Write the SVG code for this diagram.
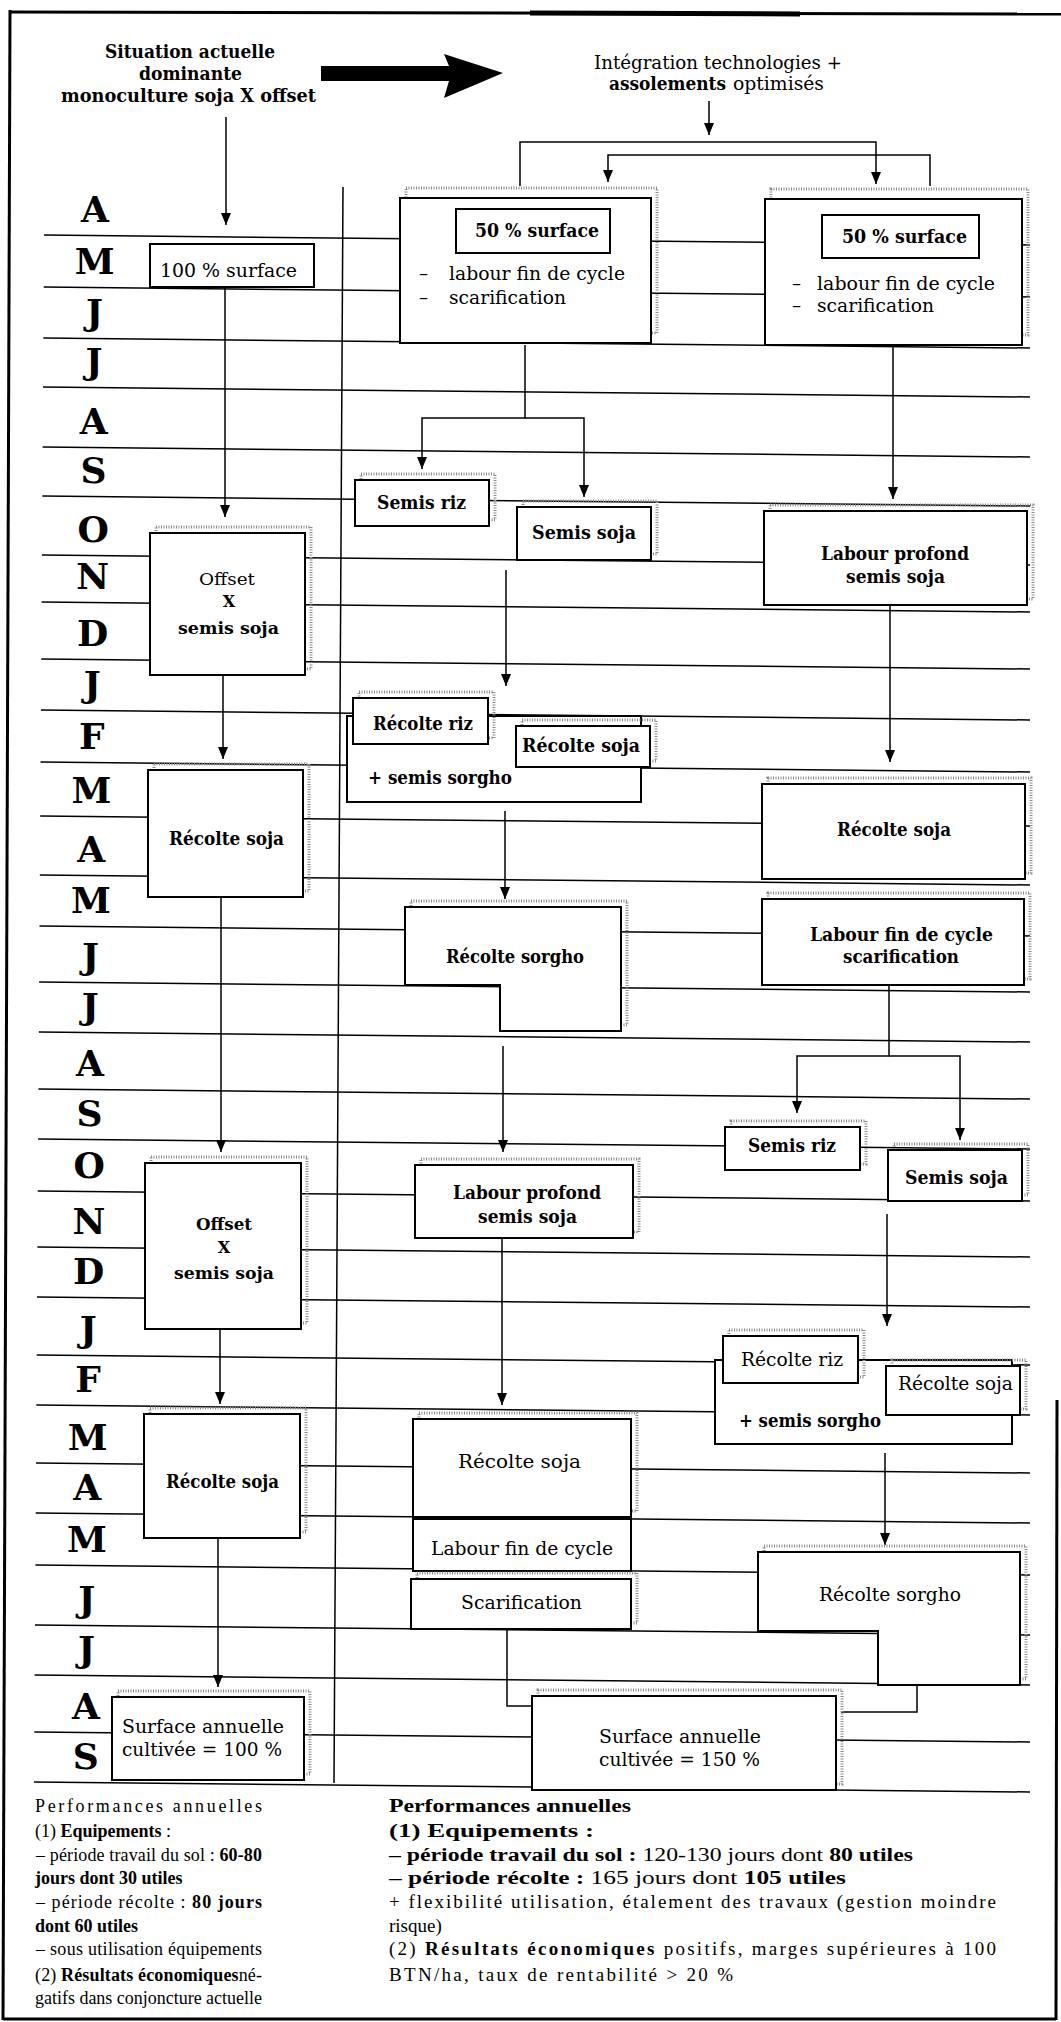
<svg xmlns="http://www.w3.org/2000/svg" width="1061" height="2022" viewBox="0 0 1061 2022">
<defs>
<marker id="ah" viewBox="0 0 12 10" refX="12" refY="5" markerWidth="12" markerHeight="10" markerUnits="userSpaceOnUse" orient="auto"><path d="M0,0 L12,5 L0,10 z" fill="#000"/></marker>
<style>
.b{font-family:"DejaVu Serif",serif;font-weight:bold;fill:#000}
.r{font-family:"DejaVu Serif",serif;fill:#000}
.p{font-family:"Liberation Serif",serif;font-size:18px;fill:#000}
.pb{font-family:"Liberation Serif",serif;font-size:18px;font-weight:bold;fill:#000}
.p19{font-size:19px}
.bw{font-weight:bold}
.nw{font-weight:normal}
.m{font-family:"DejaVu Serif",serif;font-weight:bold;font-size:36px;text-anchor:middle;fill:#000}
.f17{font-size:17px}.f16{font-size:16px}.f18{font-size:18px}.f19{font-size:19px}
.box{fill:#fff;stroke:#000;stroke-width:2}
.sh{fill:none;stroke:#888;stroke-width:3;stroke-dasharray:1 1.5}
.gl{stroke:#000;stroke-width:1.5}
.cn{stroke:#000;stroke-width:1.5;fill:none}
.fr{stroke:#000;stroke-width:3;fill:none}
</style>
</defs>
<rect width="1061" height="2022" fill="#fff"/>
<g id="frame">
<line class="fr" x1="10" y1="10" x2="3" y2="2020"/>
<line class="fr" x1="10" y1="12" x2="1061" y2="14"/>
<line x1="530" y1="13" x2="800" y2="14" stroke="#000" stroke-width="5"/>
<line class="fr" x1="1057" y1="1400" x2="1056" y2="2020"/>
<line class="fr" x1="3" y1="2019" x2="1056" y2="2019"/>
</g>
<g id="grid">
<line class="gl" x1="44" y1="235" x2="1030" y2="245"/>
<line class="gl" x1="43.7" y1="287" x2="1030" y2="297"/>
<line class="gl" x1="43.3" y1="338" x2="1030" y2="348"/>
<line class="gl" x1="43" y1="387" x2="1030" y2="397"/>
<line class="gl" x1="42.6" y1="447" x2="1030" y2="457"/>
<line class="gl" x1="42.3" y1="496" x2="1030" y2="506"/>
<line class="gl" x1="41.9" y1="555" x2="1030" y2="565"/>
<line class="gl" x1="41.6" y1="602" x2="1030" y2="612"/>
<line class="gl" x1="41.2" y1="659" x2="1030" y2="669"/>
<line class="gl" x1="40.9" y1="710" x2="1030" y2="720"/>
<line class="gl" x1="40.5" y1="762" x2="1030" y2="772"/>
<line class="gl" x1="40.2" y1="816" x2="1030" y2="826"/>
<line class="gl" x1="39.8" y1="875" x2="1030" y2="885"/>
<line class="gl" x1="39.5" y1="926" x2="1030" y2="936"/>
<line class="gl" x1="39.1" y1="982" x2="1030" y2="992"/>
<line class="gl" x1="38.8" y1="1032" x2="1030" y2="1042"/>
<line class="gl" x1="38.4" y1="1089" x2="1030" y2="1099"/>
<line class="gl" x1="38.1" y1="1139" x2="1030" y2="1149"/>
<line class="gl" x1="37.7" y1="1191" x2="1030" y2="1201"/>
<line class="gl" x1="37.4" y1="1247" x2="1030" y2="1257"/>
<line class="gl" x1="37" y1="1297" x2="1030" y2="1307"/>
<line class="gl" x1="36.7" y1="1355" x2="1030" y2="1365"/>
<line class="gl" x1="36.3" y1="1405" x2="1030" y2="1415"/>
<line class="gl" x1="36" y1="1463" x2="1030" y2="1473"/>
<line class="gl" x1="35.7" y1="1513" x2="1030" y2="1523"/>
<line class="gl" x1="35.4" y1="1565" x2="1030" y2="1575"/>
<line class="gl" x1="35" y1="1625" x2="1030" y2="1635"/>
<line class="gl" x1="34.6" y1="1675" x2="1030" y2="1685"/>
<line class="gl" x1="34.3" y1="1732" x2="1030" y2="1742"/>
<line class="gl" x1="33.9" y1="1782" x2="1030" y2="1792"/>
<line class="gl" x1="343" y1="187" x2="334" y2="1783"/>
<text class="m" x="95" y="222">A</text>
<text class="m" x="94.7" y="274">M</text>
<text class="m" x="94.4" y="325">J</text>
<text class="m" x="94.1" y="374">J</text>
<text class="m" x="93.7" y="434">A</text>
<text class="m" x="93.4" y="483">S</text>
<text class="m" x="93.1" y="542">O</text>
<text class="m" x="92.8" y="589">N</text>
<text class="m" x="92.5" y="646">D</text>
<text class="m" x="92.2" y="697">J</text>
<text class="m" x="91.8" y="749">F</text>
<text class="m" x="91.5" y="803">M</text>
<text class="m" x="91.2" y="862">A</text>
<text class="m" x="90.9" y="913">M</text>
<text class="m" x="90.5" y="969">J</text>
<text class="m" x="90.2" y="1019">J</text>
<text class="m" x="89.9" y="1076">A</text>
<text class="m" x="89.6" y="1126">S</text>
<text class="m" x="89.3" y="1178">O</text>
<text class="m" x="88.9" y="1234">N</text>
<text class="m" x="88.6" y="1284">D</text>
<text class="m" x="88.3" y="1342">J</text>
<text class="m" x="88" y="1392">F</text>
<text class="m" x="87.6" y="1450">M</text>
<text class="m" x="87.3" y="1500">A</text>
<text class="m" x="87" y="1552">M</text>
<text class="m" x="86.7" y="1612">J</text>
<text class="m" x="86.4" y="1662">J</text>
<text class="m" x="86" y="1719">A</text>
<text class="m" x="85.7" y="1769">S</text>
</g>
<g id="titles">
<text class="b f18" x="105" y="58" textLength="170" lengthAdjust="spacingAndGlyphs">Situation actuelle</text>
<text class="b f18" x="139" y="80" textLength="103" lengthAdjust="spacingAndGlyphs">dominante</text>
<text class="b f18" x="61" y="102" textLength="255" lengthAdjust="spacingAndGlyphs">monoculture soja X offset</text>
<text class="r f18" x="594" y="69" textLength="248" lengthAdjust="spacingAndGlyphs">Intégration technologies +</text>
<text class="b f18" x="609" y="90" textLength="117" lengthAdjust="spacingAndGlyphs">assolements</text>
<text class="r f18" x="733" y="90" textLength="91" lengthAdjust="spacingAndGlyphs">optimisés</text>
</g>
<g id="big-arrow">
<polygon points="321,66 449,66 444,54 503,73 444,98 449,81 321,81" fill="#000"/>
</g>
<g id="connectors">
<line class="cn" x1="226" y1="117" x2="226" y2="225" marker-end="url(#ah)"/>
<line class="cn" x1="225" y1="287" x2="225" y2="517" marker-end="url(#ah)"/>
<line class="cn" x1="223" y1="675" x2="223" y2="759" marker-end="url(#ah)"/>
<line class="cn" x1="221" y1="897" x2="221" y2="1152" marker-end="url(#ah)"/>
<line class="cn" x1="220" y1="1329" x2="220" y2="1404" marker-end="url(#ah)"/>
<line class="cn" x1="218" y1="1538" x2="218" y2="1687" marker-end="url(#ah)"/>
<line class="cn" x1="709" y1="101" x2="709" y2="135" marker-end="url(#ah)"/>
<path class="cn" d="M520,186 V142 H876 V184" marker-end="url(#ah)"/>
<path class="cn" d="M930,186 V155 H608 V182" marker-end="url(#ah)"/>
<path class="cn" d="M525,345 V418 H422 V469" marker-end="url(#ah)"/>
<path class="cn" d="M525,418 H584 V497" marker-end="url(#ah)"/>
<line class="cn" x1="893" y1="345" x2="893" y2="499" marker-end="url(#ah)"/>
<line class="cn" x1="506" y1="570" x2="506" y2="686" marker-end="url(#ah)"/>
<line class="cn" x1="890" y1="605" x2="890" y2="762" marker-end="url(#ah)"/>
<line class="cn" x1="505" y1="811" x2="505" y2="899" marker-end="url(#ah)"/>
<path class="cn" d="M889,985 V1056 H797 V1113" marker-end="url(#ah)"/>
<path class="cn" d="M889,1056 H960 V1140" marker-end="url(#ah)"/>
<line class="cn" x1="503" y1="1046" x2="503" y2="1152" marker-end="url(#ah)"/>
<line class="cn" x1="887" y1="1214" x2="887" y2="1326" marker-end="url(#ah)"/>
<line class="cn" x1="502" y1="1238" x2="502" y2="1405" marker-end="url(#ah)"/>
<line class="cn" x1="885" y1="1453" x2="885" y2="1545" marker-end="url(#ah)"/>
<path class="cn" d="M507,1629 V1706 H532"/>
<path class="cn" d="M917,1685 V1712 H841"/>
</g>
<g id="n-100">
<rect class="box" x="150" y="244" width="164" height="43"/>
<text class="r f19" x="160" y="277" textLength="137" lengthAdjust="spacingAndGlyphs">100 % surface</text>
</g>
<g id="n-offset1">
<rect class="sh" x="156" y="527" width="155" height="142"/>
<rect class="box" x="150" y="533" width="155" height="142"/>
<text class="r f17" x="199" y="585" textLength="56" lengthAdjust="spacingAndGlyphs">Offset</text>
<text class="b f16" x="229" y="607" text-anchor="middle">X</text>
<text class="b f17" x="178" y="634" textLength="101" lengthAdjust="spacingAndGlyphs">semis soja</text>
</g>
<g id="n-recolte1">
<rect class="sh" x="154" y="764" width="155" height="127"/>
<rect class="box" x="148" y="770" width="155" height="127"/>
<text class="b f18" x="169" y="845" textLength="115" lengthAdjust="spacingAndGlyphs">Récolte soja</text>
</g>
<g id="n-offset2">
<rect class="sh" x="151" y="1157" width="156" height="166"/>
<rect class="box" x="145" y="1163" width="156" height="166"/>
<text class="b f17" x="196" y="1230" textLength="56" lengthAdjust="spacingAndGlyphs">Offset</text>
<text class="b f16" x="224" y="1253" text-anchor="middle">X</text>
<text class="b f17" x="174" y="1279" textLength="100" lengthAdjust="spacingAndGlyphs">semis soja</text>
</g>
<g id="n-recolte2">
<rect class="sh" x="150" y="1408" width="156" height="124"/>
<rect class="box" x="144" y="1414" width="156" height="124"/>
<text class="b f18" x="166" y="1488" textLength="113" lengthAdjust="spacingAndGlyphs">Récolte soja</text>
</g>
<g id="n-surf100">
<rect class="sh" x="118" y="1691" width="192" height="83"/>
<rect class="box" x="112" y="1697" width="192" height="83"/>
<text class="r f19" x="122" y="1733" textLength="162" lengthAdjust="spacingAndGlyphs">Surface annuelle</text>
<text class="r f19" x="122" y="1756" textLength="160" lengthAdjust="spacingAndGlyphs">cultivée = 100 %</text>
</g>
<g id="n-bigL">
<rect class="sh" x="406" y="188" width="251" height="145"/>
<rect class="box" x="400" y="198" width="251" height="145"/>
<rect class="box" x="456" y="209" width="154" height="44"/>
<text class="b f18" x="475" y="237" textLength="124" lengthAdjust="spacingAndGlyphs">50 % surface</text>
<text class="r f18" x="419" y="280">–</text>
<text class="r f18" x="449" y="280" textLength="176" lengthAdjust="spacingAndGlyphs">labour fin de cycle</text>
<text class="r f18" x="419" y="304">–</text>
<text class="r f18" x="449" y="304" textLength="117" lengthAdjust="spacingAndGlyphs">scarification</text>
</g>
<g id="n-bigR">
<rect class="sh" x="771" y="189" width="257" height="146"/>
<rect class="box" x="765" y="199" width="257" height="146"/>
<rect class="box" x="822" y="215" width="157" height="43"/>
<text class="b f18" x="842" y="243" textLength="125" lengthAdjust="spacingAndGlyphs">50 % surface</text>
<text class="r f18" x="792" y="290">–</text>
<text class="r f18" x="817" y="290" textLength="178" lengthAdjust="spacingAndGlyphs">labour fin de cycle</text>
<text class="r f18" x="792" y="312">–</text>
<text class="r f18" x="817" y="312" textLength="117" lengthAdjust="spacingAndGlyphs">scarification</text>
</g>
<g id="n-semisriz1">
<rect class="sh" x="361" y="474" width="134" height="46"/>
<rect class="box" x="355" y="480" width="134" height="46"/>
<text class="b f18" x="377" y="509" textLength="89" lengthAdjust="spacingAndGlyphs">Semis riz</text>
</g>
<g id="n-semissoja1">
<rect class="sh" x="523" y="501" width="134" height="53"/>
<rect class="box" x="517" y="507" width="134" height="53"/>
<text class="b f18" x="532" y="539" textLength="104" lengthAdjust="spacingAndGlyphs">Semis soja</text>
</g>
<g id="n-labprof1">
<rect class="sh" x="770" y="505" width="263" height="94"/>
<rect class="box" x="764" y="511" width="263" height="94"/>
<text class="b f18" x="821" y="560" textLength="148" lengthAdjust="spacingAndGlyphs">Labour profond</text>
<text class="b f18" x="846" y="583" textLength="99" lengthAdjust="spacingAndGlyphs">semis soja</text>
</g>
<g id="n-outer1">
<rect class="box" x="347" y="716" width="294" height="86"/>
<text class="b f18" x="368" y="784" textLength="144" lengthAdjust="spacingAndGlyphs">+ semis sorgho</text>
</g>
<g id="n-recriz1">
<rect class="sh" x="359" y="692" width="135" height="46"/>
<rect class="box" x="353" y="698" width="135" height="46"/>
<text class="b f18" x="373" y="730" textLength="100" lengthAdjust="spacingAndGlyphs">Récolte riz</text>
</g>
<g id="n-recsoja-s1">
<rect class="sh" x="522" y="720" width="134" height="41"/>
<rect class="box" x="516" y="726" width="134" height="41"/>
<text class="b f18" x="522" y="752" textLength="118" lengthAdjust="spacingAndGlyphs">Récolte soja</text>
</g>
<g id="n-recsojaR1">
<rect class="sh" x="768" y="778" width="263" height="95"/>
<rect class="box" x="762" y="784" width="263" height="95"/>
<text class="b f18" x="837" y="836" textLength="114" lengthAdjust="spacingAndGlyphs">Récolte soja</text>
</g>
<g id="n-labfinR">
<rect class="sh" x="768" y="893" width="262" height="86"/>
<rect class="box" x="762" y="899" width="262" height="86"/>
<text class="b f18" x="810" y="941" textLength="183" lengthAdjust="spacingAndGlyphs">Labour fin de cycle</text>
<text class="b f18" x="843" y="963" textLength="116" lengthAdjust="spacingAndGlyphs">scarification</text>
</g>
<g id="n-sorgho1">
<path class="sh" d="M411,901 H627 V1025 H506 V979 H411 Z"/>
<path class="box" d="M405,907 H621 V1031 H500 V985 H405 Z"/>
<text class="b f18" x="446" y="963" textLength="138" lengthAdjust="spacingAndGlyphs">Récolte sorgho</text>
</g>
<g id="n-labprof2">
<rect class="sh" x="421" y="1159" width="218" height="73"/>
<rect class="box" x="415" y="1165" width="218" height="73"/>
<text class="b f18" x="453" y="1199" textLength="148" lengthAdjust="spacingAndGlyphs">Labour profond</text>
<text class="b f18" x="478" y="1223" textLength="99" lengthAdjust="spacingAndGlyphs">semis soja</text>
</g>
<g id="n-semisriz2">
<rect class="sh" x="731" y="1121" width="135" height="43"/>
<rect class="box" x="725" y="1127" width="135" height="43"/>
<text class="b f18" x="748" y="1152" textLength="88" lengthAdjust="spacingAndGlyphs">Semis riz</text>
</g>
<g id="n-semissoja2">
<rect class="sh" x="894" y="1144" width="134" height="51"/>
<rect class="box" x="888" y="1150" width="134" height="51"/>
<text class="b f18" x="905" y="1184" textLength="103" lengthAdjust="spacingAndGlyphs">Semis soja</text>
</g>
<g id="n-outer2">
<rect class="box" x="715" y="1360" width="297" height="84"/>
<text class="b f18" x="739" y="1427" textLength="142" lengthAdjust="spacingAndGlyphs">+ semis sorgho</text>
</g>
<g id="n-recriz2">
<rect class="sh" x="729" y="1330" width="135" height="47"/>
<rect class="box" x="723" y="1336" width="135" height="47"/>
<text class="r f19" x="741" y="1366" textLength="102" lengthAdjust="spacingAndGlyphs">Récolte riz</text>
</g>
<g id="n-recsoja-s2">
<rect class="sh" x="892" y="1360" width="134" height="49"/>
<rect class="box" x="886" y="1366" width="134" height="49"/>
<text class="r f19" x="898" y="1390" textLength="115" lengthAdjust="spacingAndGlyphs">Récolte soja</text>
</g>
<g id="n-recsojaM2">
<rect class="sh" x="419" y="1413" width="218" height="98"/>
<rect class="box" x="413" y="1419" width="218" height="98"/>
<text class="r f19" x="458" y="1468" textLength="123" lengthAdjust="spacingAndGlyphs">Récolte soja</text>
</g>
<g id="n-labfinM">
<rect class="box" x="413" y="1519" width="218" height="52"/>
<text class="r f19" x="431" y="1555" textLength="182" lengthAdjust="spacingAndGlyphs">Labour fin de cycle</text>
</g>
<g id="n-scarif">
<rect class="sh" x="417" y="1573" width="220" height="50"/>
<rect class="box" x="411" y="1579" width="220" height="50"/>
<text class="r f19" x="461" y="1609" textLength="121" lengthAdjust="spacingAndGlyphs">Scarification</text>
</g>
<g id="n-sorgho2">
<path class="sh" d="M764,1546 H1026 V1679 H884 V1625 H764 Z"/>
<path class="box" d="M758,1552 H1020 V1685 H878 V1631 H758 Z"/>
<text class="r f19" x="819" y="1601" textLength="142" lengthAdjust="spacingAndGlyphs">Récolte sorgho</text>
</g>
<g id="n-surf150">
<rect class="sh" x="538" y="1690" width="304" height="94"/>
<rect class="box" x="532" y="1696" width="304" height="94"/>
<text class="r f19" x="599" y="1743" textLength="162" lengthAdjust="spacingAndGlyphs">Surface annuelle</text>
<text class="r f19" x="599" y="1766" textLength="161" lengthAdjust="spacingAndGlyphs">cultivée = 150 %</text>
</g>
<g id="perf-left">
<text class="p" x="35" y="1812" textLength="227" lengthAdjust="spacing">Performances annuelles</text>
<text class="p" x="35" y="1837">(1) <tspan class="bw">Equipements</tspan> :</text>
<text class="p" x="36" y="1861" textLength="226" lengthAdjust="spacing">–  période travail du sol : <tspan class="bw">60-80</tspan></text>
<text class="pb" x="35" y="1884">jours dont 30 utiles</text>
<text class="p" x="36" y="1908" textLength="226" lengthAdjust="spacing">–  période récolte : <tspan class="bw">80 jours</tspan></text>
<text class="pb" x="35" y="1932">dont 60 utiles</text>
<text class="p" x="36" y="1955" textLength="226" lengthAdjust="spacing">–  sous utilisation équipements</text>
<text class="p" x="35" y="1981" textLength="227" lengthAdjust="spacing">(2) <tspan class="bw">Résultats économiques</tspan>né-</text>
<text class="p" x="35" y="2004" textLength="227" lengthAdjust="spacing">gatifs dans conjoncture actuelle</text>
</g>
<g id="perf-right">
<text class="pb" x="389" y="1812" textLength="242" lengthAdjust="spacingAndGlyphs">Performances annuelles</text>
<text class="pb" x="389" y="1837" textLength="205" lengthAdjust="spacingAndGlyphs">(1) Equipements :</text>
<text class="pb" x="389" y="1861" textLength="524" lengthAdjust="spacingAndGlyphs">–  période travail du sol : <tspan class="nw">120-130 jours dont</tspan> 80 utiles</text>
<text class="pb" x="389" y="1884" textLength="457" lengthAdjust="spacingAndGlyphs">–  période récolte : <tspan class="nw">165 jours dont</tspan> 105 utiles</text>
<text class="p p19" x="389" y="1908" textLength="607" lengthAdjust="spacing">+ flexibilité utilisation, étalement des travaux (gestion moindre</text>
<text class="p p19" x="389" y="1932">risque)</text>
<text class="p p19" x="389" y="1955" textLength="607" lengthAdjust="spacing">(2) <tspan class="bw">Résultats économiques</tspan> positifs, marges supérieures à 100</text>
<text class="p p19" x="389" y="1981" textLength="344" lengthAdjust="spacing">BTN/ha, taux de rentabilité &gt; 20 %</text>
</g>
</svg>
